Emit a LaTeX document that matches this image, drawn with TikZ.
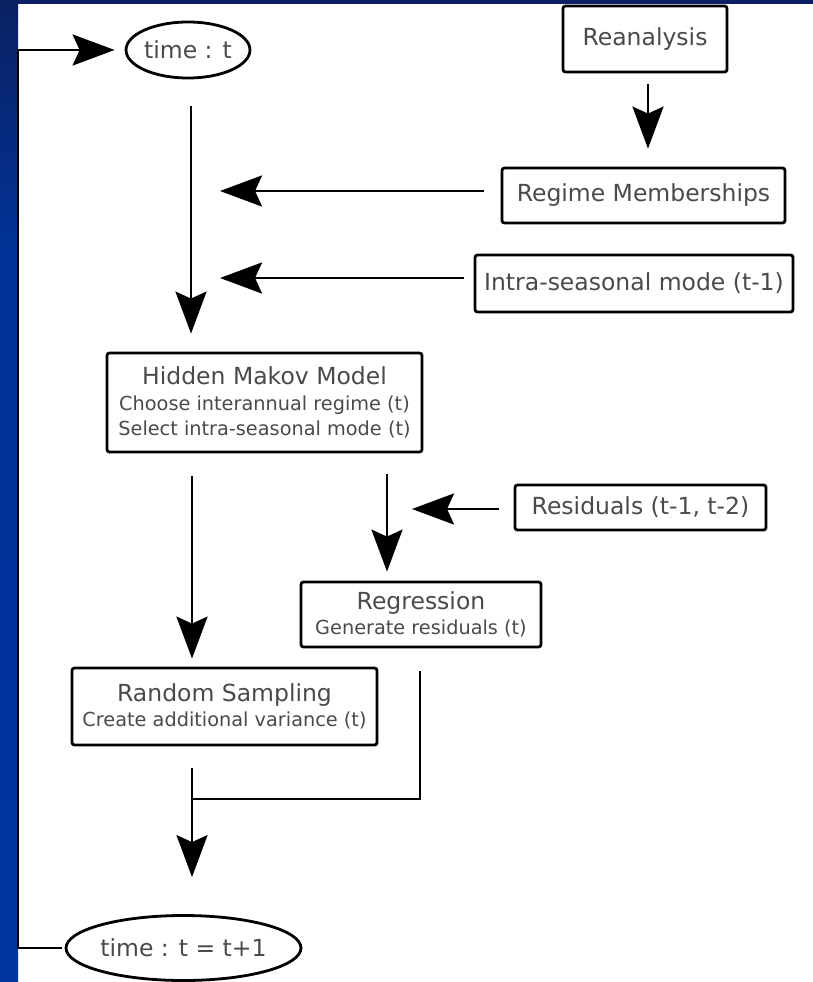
\documentclass[tikz,border=0pt]{standalone}
\usepackage{fontspec}
\setmainfont{DejaVu Sans}
\usetikzlibrary{arrows.meta,shapes.geometric}
\definecolor{navy}{HTML}{0B2162}
\definecolor{frameblue}{HTML}{003399}
\definecolor{framebot}{HTML}{00359F}
\definecolor{txt}{HTML}{4A4A4A}
\begin{document}
\begin{tikzpicture}[x=1pt,y=-1pt,
  box/.style={draw=black, line width=2.8pt, rounded corners=2.5pt, fill=white, text=txt, inner sep=0pt, align=center},
  oval/.style={ellipse, draw=black, line width=2.8pt, fill=white, text=txt, inner sep=0pt},
  big/.style={font=\fontsize{23.5}{26}\selectfont},
  small/.style={font=\fontsize{19.3}{25.5}\selectfont},
  conn/.style={line width=2.8pt, draw=black},
  arr/.style={conn, -{Stealth[length=42pt,width=31pt,inset=7pt]}}]
\useasboundingbox (0,0) rectangle (813,982);
\fill[white] (0,0) rectangle (813,982);
\shade[top color=navy, bottom color=frameblue] (0,0) rectangle (18,260);
\shade[top color=frameblue, bottom color=framebot] (0,259.5) rectangle (18,982);
\fill[navy] (0,0) rectangle (813,4);

% nodes
\node[oval, big, minimum width=118pt, minimum height=56pt] (t0) at (188,50) {time : t};
\node[box, big, minimum width=164pt, minimum height=66pt] (rean) at (645,39) {Reanalysis};
\node[box, big, minimum width=283pt, minimum height=55pt] (regm) at (643.5,195.5) {Regime Memberships};
\node[box, big, minimum width=318pt, minimum height=57pt] (intra) at (634,283.5) {Intra-seasonal mode (t-1)};
\node[box, small, minimum width=315pt, minimum height=99pt] (hmm) at (264.5,402.5)
  {{\fontsize{23.5}{26}\selectfont Hidden Makov Model}\\Choose interannual regime (t)\\Select intra-seasonal mode (t)};
\node[box, big, minimum width=251pt, minimum height=45pt] (resid) at (640.5,507.5) {Residuals (t-1, t-2)};
\node[box, small, minimum width=240pt, minimum height=65pt] (regr) at (421,614.5)
  {{\fontsize{23.5}{26}\selectfont Regression}\\Generate residuals (t)};
\node[box, small, minimum width=305pt, minimum height=77pt] (rand) at (224.5,706.5)
  {{\fontsize{23.5}{26}\selectfont Random Sampling}\\Create additional variance (t)};
\node[oval, big, minimum width=217pt, minimum height=65pt] (t1) at (183.5,948) {time : t = t+1};

% helper coordinates
\coordinate (m1) at (220,191);
\coordinate (m2) at (220,278);
\coordinate (m3) at (412,509);
\coordinate (v0) at (648,0);
\coordinate (v1) at (191,0);
\coordinate (v2) at (192,0);
\coordinate (v3) at (387,0);
\coordinate (v4) at (420,0);
\coordinate (j) at (192,799);
\coordinate (lx) at (18,0);

% connectors
\draw[arr, shorten <=11pt, shorten >=18pt] (rean.south -| v0) -- (regm.north -| v0);
\draw[arr, shorten <=17pt] (regm.west |- m1) -- (m1);
\draw[arr, shorten <=10pt] (intra.west |- m2) -- (m2);
\draw[arr, shorten <=27pt, shorten >=18pt] (t0.south -| v1) -- (hmm.north -| v1);
\draw[arr, shorten <=23pt, shorten >=8pt] (hmm.south -| v2) -- (rand.north -| v2);
\draw[arr, shorten <=21pt, shorten >=9pt] (hmm.south -| v3) -- (regr.north -| v3);
\draw[arr, shorten <=15pt] (resid.west |- m3) -- (m3);
\draw[conn, shorten <=23pt] (regr.south -| v4) -- (v4 |- j) -- (j);
\draw[arr, shorten <=22pt, shorten >=37pt] (rand.south -| v2) -- (t1.north -| v2);
\draw[arr, shorten <=3pt, shorten >=10pt] (t1.west) -- (t1.west -| lx) -- (t0.west -| lx) -- (t0.west);
\end{tikzpicture}
\end{document}
